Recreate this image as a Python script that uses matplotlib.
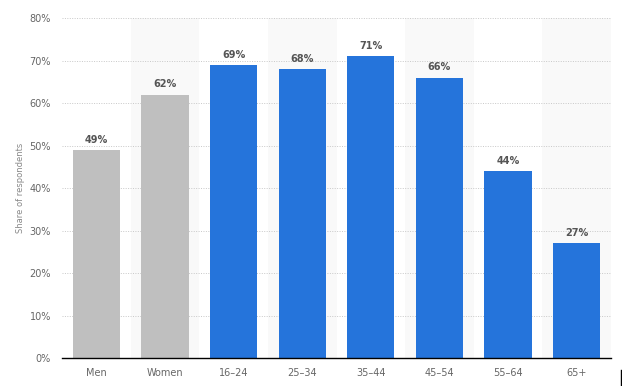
import numpy as np
import matplotlib.pyplot as plt
from matplotlib.lines import Line2D

categories = ['Men', 'Women', '16-24', '25-34', '35-44', '45-54', '55-64', '65+']
values = [49, 62, 69, 68, 71, 66, 44, 27]
bar_colors = ['#bfbfbf', '#bfbfbf'] + ['#2574db'] * 6
y_ticks = [0, 10, 20, 30, 40, 50, 60, 70, 80]

fig = plt.figure(figsize=(6.22, 3.86), dpi=100)
ax = fig.add_axes([0.0997, 0.0725, 0.8826, 0.8808])

x = np.arange(len(categories))

# alternating background bands
for i in x[1::2]:
    ax.axvspan(i - 0.5, i + 0.5, color='#f9f9f9', zorder=0, lw=0)

ax.set_ylim(0, 80)
ax.set_xlim(-0.5, len(categories) - 0.5)
ax.set_yticks(y_ticks)
ax.set_yticklabels([f'{t}%' for t in y_ticks])
ax.yaxis.grid(True, linestyle=(0, (1, 1.5)), color='#c8c8c8', linewidth=0.7, zorder=1)
ax.set_axisbelow(True)

bars = ax.bar(x, values, width=0.69, color=bar_colors, zorder=2)
for b, v in zip(bars, values):
    ax.text(b.get_x() + b.get_width() / 2, v + 1.2, f'{v}%', ha='center', va='bottom',
            fontsize=7, color='#555555', fontweight='bold')

ax.set_xticks(x)
ax.set_xticklabels([c.replace('-', '–') for c in categories])
ax.tick_params(axis='both', length=0, labelsize=7, colors='#666666')
ax.tick_params(axis='x', pad=7)
ax.tick_params(axis='y', pad=8)

for s in ['top', 'right', 'left']:
    ax.spines[s].set_visible(False)
ax.spines['bottom'].set_color('#000000')
ax.spines['bottom'].set_linewidth(1.0)

ax.set_ylabel('Share of respondents', fontsize=6, color='#888888')
ax.yaxis.set_label_coords(-0.068, 0.5)

fig.add_artist(Line2D([621 / 622, 621 / 622], [0, 16 / 386], color='black', lw=1))

fig.savefig('out.png', dpi=100, facecolor='white')
